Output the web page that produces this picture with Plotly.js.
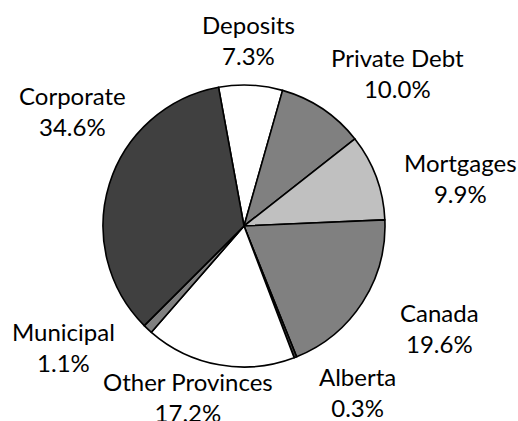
<!DOCTYPE html>
<html>
<head>
<meta charset="utf-8">
<script src="https://cdn.plot.ly/plotly-3.0.1.min.js"></script>
<style>html,body{margin:0;padding:0;background:#fff}#chart{width:518px;height:421px}</style>
</head>
<body>
<div id="chart"></div>
<script>
const categories = ["Deposits", "Private Debt", "Mortgages", "Canada", "Alberta", "Other Provinces", "Municipal", "Corporate"];
const shares = [7.3, 10.0, 9.9, 19.6, 0.3, 17.2, 1.1, 34.6];
const sliceColors = ["#ffffff", "#808080", "#c0c0c0", "#808080", "#404040", "#ffffff", "#808080", "#404040"];

// label block centres in pixels (layout only)
const labelX = [248, 397, 460, 439, 357, 188, 63, 72];
const labelY = [40, 73, 178, 328, 392, 397, 347, 111];

const W = 518, H = 421, cx = 244, cy = 226, R = 141;
const FONT = { family: "Lato, sans-serif", size: 24, color: "#000000" };

const trace = {
  type: "pie",
  labels: categories,
  values: shares,
  sort: false,
  direction: "clockwise",
  rotation: -10.4,
  marker: { colors: sliceColors, line: { color: "#000000", width: 1.6 } },
  textinfo: "none",
  automargin: false,
  showlegend: false,
  hoverinfo: "label+percent",
  domain: { x: [(cx - R) / W, (cx + R) / W], y: [1 - (cy + R) / H, 1 - (cy - R) / H] }
};

const annotations = categories.map((c, i) => ({
  text: c + "<br>" + shares[i].toFixed(1) + "%",
  x: labelX[i] / W, y: 1 - labelY[i] / H,
  xref: "paper", yref: "paper",
  xanchor: "center", yanchor: "middle",
  showarrow: false, align: "center",
  font: FONT
}));

const layout = {
  width: W, height: H,
  margin: { l: 0, r: 0, t: 0, b: 0 },
  paper_bgcolor: "#ffffff",
  showlegend: false,
  annotations: annotations
};

Plotly.newPlot("chart", [trace], layout, { displayModeBar: false, staticPlot: true });
</script>
</body>
</html>
